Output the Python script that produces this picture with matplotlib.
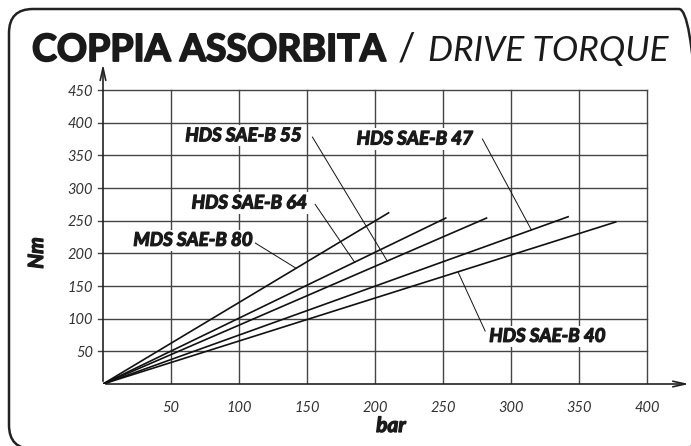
import matplotlib.pyplot as plt
import matplotlib.patheffects as pe
from matplotlib.patches import FancyBboxPatch
from matplotlib.transforms import IdentityTransform

pumps = ['MDS SAE-B 80', 'HDS SAE-B 64', 'HDS SAE-B 55', 'HDS SAE-B 47', 'HDS SAE-B 40']
max_bar = [210, 252, 282, 342, 377]
max_nm = [262, 254, 254, 256, 248]

# label text anchor, leader start, bar value where the leader meets the curve
label_xy = [(110, 220), (150, 277), (146, 380), (272, 375), (284, 73)]
label_ha = ['right', 'right', 'right', 'right', 'left']
leader_from = [(111, 217), (156, 275), (154, 378), (279, 375), (281, 81)]
leader_at = [142, 185, 209, 315, 261]

x_ticks = [50, 100, 150, 200, 250, 300, 350, 400]
y_ticks = [50, 100, 150, 200, 250, 300, 350, 400, 450]

plt.rcParams['font.family'] = ['Lato', 'DejaVu Sans']

fig = plt.figure(figsize=(6.91, 4.46), dpi=100)

heavy = [pe.withStroke(linewidth=0.9, foreground='#1a1a1a')]
heavy_title = [pe.withStroke(linewidth=1.3, foreground='#1a1a1a')]

# rounded frame, partly running off the right and bottom edges
frame = FancyBboxPatch((9, -3), 694, 440,
                       boxstyle='round,pad=0,rounding_size=24',
                       transform=IdentityTransform(), fill=False, lw=1.8, ec='#222222')
fig.patches.append(frame)

fig.text(32 / 691, 1 - 61 / 446, 'COPPIA ASSORBITA', fontsize=27, fontweight='bold',
         color='#1a1a1a', va='baseline', path_effects=heavy_title)
fig.text(398 / 691, 1 - 61 / 446, '/', fontsize=28, color='#1a1a1a', va='baseline')
fig.text(428 / 691, 1 - 61 / 446, 'DRIVE TORQUE', fontsize=25.5, style='italic',
         color='#1a1a1a', va='baseline')

ax = fig.add_axes([103 / 691, 62 / 446, 583 / 691, 324 / 446])
ax.set_xlim(0, 583 / 1.36)
ax.set_ylim(0, 324 / 0.6533)
for s in ax.spines.values():
    s.set_visible(False)

# grid confined to the 0-400 x 0-450 area
for x in x_ticks:
    ax.plot([x, x], [0, 450], color='#444444', lw=1.0, zorder=1)
for y in y_ticks:
    ax.plot([-4, 400], [y, y], color='#444444', lw=1.0, zorder=1, clip_on=False)

ax.annotate('', xy=(433, 0), xytext=(0, 0),
            arrowprops=dict(arrowstyle='->,head_length=0.9,head_width=0.2', lw=1.2, color='#222222'),
            annotation_clip=False)
ax.annotate('', xy=(0, 494), xytext=(0, 0),
            arrowprops=dict(arrowstyle='->,head_length=0.9,head_width=0.2', lw=1.2, color='#222222'),
            annotation_clip=False)

ax.set_xticks(x_ticks)
ax.set_yticks(y_ticks)
ax.tick_params(length=0, labelsize=10.5, labelcolor='#333333')
ax.tick_params(axis='x', pad=12)
ax.tick_params(axis='y', pad=7)
for t in ax.get_xticklabels() + ax.get_yticklabels():
    t.set_style('italic')

for bar, nm in zip(max_bar, max_nm):
    ax.plot([0, bar], [0, nm], color='#111111', lw=1.2, zorder=3)

for i, name in enumerate(pumps):
    ax.text(label_xy[i][0], label_xy[i][1], name, ha=label_ha[i], va='center',
            fontsize=13.5, fontweight='bold', style='italic', color='#1a1a1a', zorder=5,
            path_effects=heavy,
            bbox=dict(boxstyle='square,pad=0.12', fc='white', ec='none'))
    tx = leader_at[i]
    ty = max_nm[i] / max_bar[i] * tx
    ax.plot([leader_from[i][0], tx], [leader_from[i][1], ty], color='#111111', lw=0.7, zorder=4)

fig.text(37 / 691, 1 - 253 / 446, 'Nm', fontsize=15, fontweight='bold', style='italic',
         rotation=90, ha='center', va='center', color='#1a1a1a', path_effects=heavy)
fig.text(391 / 691, 1 - 426 / 446, 'bar', fontsize=15, fontweight='bold', style='italic',
         ha='center', va='center', color='#1a1a1a', path_effects=heavy)

fig.savefig('out.png', dpi=100)
